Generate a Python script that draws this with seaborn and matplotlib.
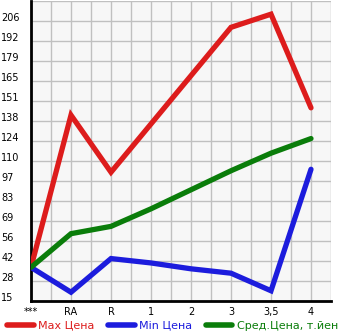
import numpy as np
import pandas as pd
import matplotlib
matplotlib.use("Agg")
import matplotlib.pyplot as plt
import seaborn as sns
from matplotlib.ticker import FixedLocator
from matplotlib.lines import Line2D

categories = ["***", "RA", "R", "1", "2", "3", "3,5", "4"]
max_price = [38, 142, 103, 136, 169, 202, 211, 147]
min_price = [38, 21, 44, 41, 37, 34, 22, 105]
avg_price = [38, 61, 66, 78, 91, 104, 116, 126]
series_names = ["Max Цена", "Min Цена", "Сред.Цена, т.йен"]
colors = ["#dd1c1c", "#1c1cdd", "#0a7d0a"]
y_min, y_max = 15, 220

rows = []
for name, vals in zip(series_names, [max_price, min_price, avg_price]):
    for c, v in zip(categories, vals):
        rows.append({"cat": c, "value": v, "series": name})
df = pd.DataFrame(rows)

sns.set_theme(style="white")
plt.rcParams["font.family"] = ["DejaVu Sans"]

fig = plt.figure(figsize=(3.45, 3.35), dpi=100)
ax = fig.add_axes([31/345, 34/335, 300/345, 300/335])
ax.set_facecolor("#f7f7f7")

sns.lineplot(data=df, x="cat", y="value", hue="series", palette=colors,
             hue_order=series_names, sort=False, linewidth=3.8, ax=ax,
             legend=False, solid_capstyle="round", solid_joinstyle="miter")

ax.set_xlim(0, 7.5)
ax.set_ylim(y_min, y_max)
step = (y_max - y_min) / 15
yt = [y_min + k * step for k in range(16)]
ax.set_yticks(yt[:15])
ax.set_yticklabels([str(int(v)) for v in yt[:15]])
ax.yaxis.set_minor_locator(FixedLocator(yt))
ax.set_xticks(range(len(categories)))
ax.set_xticklabels(categories)
ax.xaxis.set_minor_locator(FixedLocator([k + 0.5 for k in range(8)]))

ax.grid(True, which="minor", axis="x", color="#c0c0c0", linewidth=1.0)
ax.grid(True, which="both", axis="y", color="#c0c0c0", linewidth=1.0)
ax.grid(True, which="major", axis="x", color="#c0c0c0", linewidth=1.0)
ax.set_axisbelow(True)
for l in ax.get_lines():
    l.set_zorder(3)

ax.set_xlabel("")
ax.set_ylabel("")
for s in ["top", "right"]:
    ax.spines[s].set_visible(False)
ax.spines["left"].set_color("black")
ax.spines["left"].set_linewidth(2)
ax.spines["bottom"].set_color("black")
ax.spines["bottom"].set_linewidth(2)

ax.tick_params(axis="x", which="major", length=0, labelsize=7, pad=4,
               labelcolor="black")
ax.tick_params(axis="x", which="minor", length=4, width=1, color="black", direction="out")
ax.tick_params(axis="y", which="major", length=3, width=1, color="black",
               labelsize=7, pad=18.5, direction="out", labelcolor="black")
ax.tick_params(axis="y", which="minor", length=3, width=1, color="black", direction="out")
for lab in ax.get_yticklabels():
    lab.set_horizontalalignment("left")
    lab.set_verticalalignment("baseline")

handles = [Line2D([0], [0], color=c, linewidth=4, solid_capstyle="round") for c in colors]
leg = fig.legend(handles, series_names, loc="lower center", bbox_to_anchor=(0.5, 0.0),
                 ncol=3, frameon=False, fontsize=8, handlelength=2.4,
                 handletextpad=0.4, columnspacing=1.2, borderaxespad=0)
for t, c in zip(leg.get_texts(), colors):
    t.set_color(c)

fig.savefig("out.png", dpi=100, facecolor="white")
